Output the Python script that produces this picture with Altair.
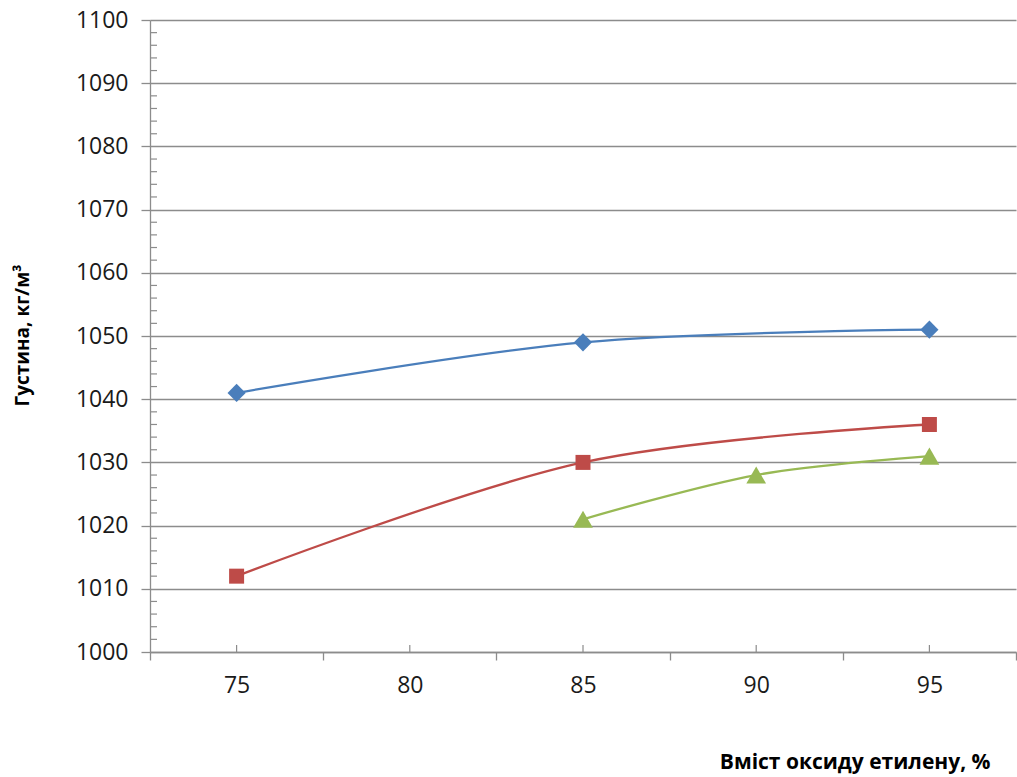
import altair as alt
import pandas as pd

# Ethylene oxide content, % and density, kg/m3 for three series
x_a = [75, 85, 95]
y_a = [1041, 1049, 1051]
x_b = [75, 85, 95]
y_b = [1012, 1030, 1036]
x_c = [85, 90, 95]
y_c = [1021, 1028, 1031]

series_names = ["A", "B", "C"]
series_colors = ["#4A7EBB", "#BE4B48", "#98B954"]
series_shapes = ["diamond", "square", "triangle-up"]
series_sizes = [330, 225, 390]

x_major = [72.5, 77.5, 82.5, 87.5, 92.5, 97.5]
x_labels = [75, 80, 85, 90, 95]
y_major = list(range(1000, 1101, 10))
y_minor = [v for v in range(1002, 1100, 2) if v % 10 != 0]

rows = []
for name, xs, ys in zip(series_names, [x_a, x_b, x_c], [y_a, y_b, y_c]):
    for xv, yv in zip(xs, ys):
        rows.append({"s": name, "x": xv, "y": yv})
df = pd.DataFrame(rows)

W, H = 866, 632
FONT = "Open Sans"
GRAY = "#8c8c8c"

xscale = alt.Scale(domain=[72.5, 97.5], nice=False, zero=False)
yscale = alt.Scale(domain=[1000, 1100], nice=False, zero=False)
color = alt.Color("s:N", scale=alt.Scale(domain=series_names, range=series_colors), legend=None)

lines = alt.Chart(df).mark_line(interpolate="cardinal", strokeWidth=2.3).encode(
    x=alt.X("x:Q", scale=xscale,
            axis=alt.Axis(values=x_major, labels=False, tickSize=8, tickColor=GRAY,
                          tickWidth=1.3, domainColor=GRAY, domainWidth=1.3, grid=False,
                          title="Вміст оксиду етилену, %", titleFont=FONT, titleFontSize=21,
                          titleFontWeight="bold", titleColor="#000000", titleAnchor="end",
                          titleAlign="right", titleBaseline="middle", titleX=840, titleY=110,
                          orient="bottom")),
    y=alt.Y("y:Q", scale=yscale,
            axis=alt.Axis(values=y_major, format="d", grid=True, gridColor=GRAY,
                          gridWidth=1.3, tickSize=9, tickColor=GRAY, tickWidth=1.3,
                          domainColor=GRAY, domainWidth=1.3, labelFont=FONT,
                          labelFontSize=23, labelColor="#1a1a1a", labelPadding=13,
                          title="Густина, кг/м³", titleFont=FONT, titleFontSize=19,
                          titleFontWeight="bold", titleColor="#000000", titleAngle=270,
                          titleAlign="center", titleBaseline="middle", titleX=-128,
                          titleY=315)),
    color=color,
    detail="s:N",
)

# One marker layer per series, each with its own shape and size
marker_layers = []
for name, col, shp, sz in zip(series_names, series_colors, series_shapes, series_sizes):
    marker_layers.append(
        alt.Chart(df).transform_filter(alt.datum.s == name)
        .mark_point(filled=True, opacity=1, strokeWidth=0, shape=shp, size=sz, color=col)
        .encode(
            x=alt.X("x:Q", scale=xscale, axis=None),
            y=alt.Y("y:Q", scale=yscale),
        )
    )

# Inward minor ticks on the y axis
ymin_df = pd.DataFrame({"y": y_minor})
yminor = alt.Chart(ymin_df).mark_rule(color=GRAY, strokeWidth=1.2).encode(
    y=alt.Y("y:Q", scale=yscale),
    x=alt.value(0),
    x2=alt.value(7),
)

# Inward ticks at labelled x positions, with their own label axis
xlab_df = pd.DataFrame({"x": x_labels})
xinner = alt.Chart(xlab_df).mark_rule(color=GRAY, strokeWidth=1.2).encode(
    x=alt.X("x:Q", scale=xscale,
            axis=alt.Axis(values=x_labels, ticks=False, domain=False, grid=False,
                          labelFont=FONT, labelFontSize=23, labelColor="#1a1a1a",
                          labelPadding=22, title=None, orient="bottom")),
    y=alt.value(H),
    y2=alt.value(H - 7),
)

chart = (
    alt.layer(lines, yminor, xinner, *marker_layers)
    .resolve_axis(x="independent")
    .properties(
        width=W,
        height=H,
        autosize=alt.AutoSizeParams(type="none"),
        padding={"left": 150, "top": 20, "right": 1, "bottom": 125},
        background="#ffffff",
    )
    .configure_view(stroke=None)
)

chart.save("out.html", embed_options={"renderer": "svg", "actions": False})
